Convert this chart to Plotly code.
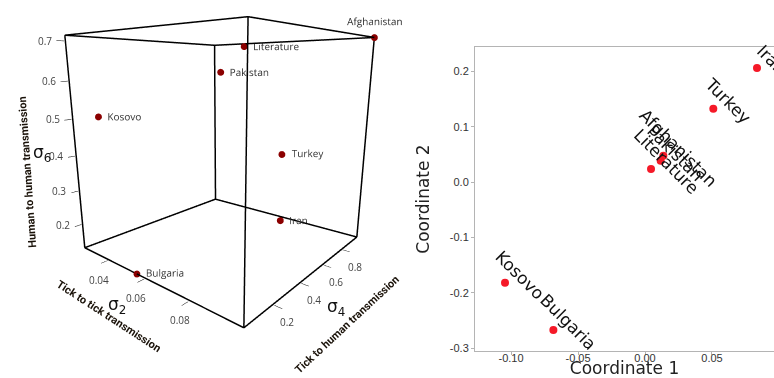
import plotly.graph_objects as go

# ---------------- data ----------------
names3d = ["Afghanistan", "Literature", "Pakistan", "Kosovo", "Turkey", "Iran", "Bulgaria"]
sigma2 = [0.100, 0.043, 0.034, 0.025, 0.070, 0.068, 0.056]   # tick to tick
sigma4 = [0.98, 0.97, 0.90, 0.15, 0.85, 0.90, 0.02]          # tick to human
sigma6 = [0.714, 0.705, 0.62, 0.50, 0.37, 0.135, 0.128]      # human to human
label_pos3d = ["top center", "middle right", "middle right", "middle right",
               "middle right", "middle right", "middle right"]

sigma2_ticks = [0.04, 0.06, 0.08]
sigma4_ticks = [0.2, 0.4, 0.6, 0.8]
sigma6_ticks = [0.2, 0.3, 0.4, 0.5, 0.6, 0.7]

names2d = ["Iran", "Turkey", "Afghanistan", "Pakistan", "Literature", "Kosovo", "Bulgaria"]
coord1 = [0.0836, 0.0510, 0.0137, 0.0117, 0.0045, -0.1045, -0.0684]
coord2 = [0.2060, 0.1325, 0.0477, 0.0386, 0.0236, -0.1816, -0.2670]

x2ticks = [-0.10, -0.05, 0.00, 0.05, 0.10]
y2ticks = [-0.3, -0.2, -0.1, 0.0, 0.1, 0.2]

r2 = [min(sigma2), max(sigma2)]
r4 = [min(sigma4), max(sigma4)]
r6 = [min(sigma6), max(sigma6)]

def padded(r, f=0.004):
    s = (r[1] - r[0]) * f
    return [r[0] - s, r[1] + s]

fig = go.Figure()

# box edges, built from the data ranges (one trace per edge)
edges = []
for a in r2:
    for b in r4:
        edges.append(((a, b, r6[0]), (a, b, r6[1])))
for a in r2:
    for c in r6:
        edges.append(((a, r4[0], c), (a, r4[1], c)))
for b in r4:
    for c in r6:
        edges.append(((r2[0], b, c), (r2[1], b, c)))
for p, q in edges:
    fig.add_trace(go.Scatter3d(x=[p[0], q[0]], y=[p[1], q[1]], z=[p[2], q[2]], mode="lines",
                               line=dict(color="black", width=3),
                               showlegend=False, hoverinfo="skip"))

# 3D points
fig.add_trace(go.Scatter3d(
    x=sigma2, y=sigma4, z=sigma6, mode="markers+text",
    text=names3d, textposition=label_pos3d,
    textfont=dict(family="Open Sans", size=10, color="#333333"),
    marker=dict(size=4, color="#8b0000"),
    showlegend=False, hoverinfo="text"))

ax3 = dict(showgrid=False, showbackground=False, zeroline=False, showline=False,
           ticks="outside", tickcolor="black", ticklen=6, tickwidth=1,
           showticklabels=False, showspikes=False, title=dict(text=""))

# tick labels of the 3D box, placed at the tick values on the box edges
tfont3 = dict(family="Open Sans", size=10, color="#444444")
scene_ann = []
for v in sigma2_ticks:
    scene_ann.append(dict(x=v, y=r4[0], z=r6[0], text=f"{v:.2f}", showarrow=False,
                          xshift=-9, yshift=-20, font=tfont3))
for v in sigma4_ticks:
    scene_ann.append(dict(x=r2[1], y=v, z=r6[0], text=f"{v:.1f}", showarrow=False,
                          xshift=13, yshift=-18, font=tfont3))
for v in sigma6_ticks:
    scene_ann.append(dict(x=r2[0], y=r4[0], z=v, text=f"{v:.1f}", showarrow=False,
                          xanchor="right", xshift=-11, font=tfont3))

fig.update_layout(
    width=774, height=378, margin=dict(l=0, r=0, t=0, b=0),
    paper_bgcolor="white", plot_bgcolor="white",
    scene=dict(
        domain=dict(x=[0.0, 0.5814], y=[43/378, 373/378]),
        xaxis=dict(ax3, range=padded(r2), tickvals=sigma2_ticks),
        yaxis=dict(ax3, range=padded(r4), tickvals=sigma4_ticks),
        zaxis=dict(ax3, range=padded(r6), tickvals=sigma6_ticks),
        aspectmode="manual", aspectratio=dict(x=1, y=1, z=1.014),
        camera=dict(eye=dict(x=1.209, y=-1.457, z=0.36), center=dict(x=0, y=0, z=-0.12),
                    up=dict(x=0, y=0, z=1)),
        annotations=scene_ann,
    ),
    xaxis=dict(domain=[475/774, 1.0], range=[-0.1269, 0.0963], automargin=False,
               tickvals=x2ticks, ticktext=["-0.10", "-0.05", "0.00", "0.05", "0.10"],
               showline=True, mirror=True, linecolor="#b4b4b4", linewidth=1,
               ticks="outside", ticklen=3, tickcolor="#b4b4b4", ticklabelstandoff=-6,
               showgrid=False, zeroline=False,
               tickfont=dict(family="Liberation Sans", size=11, color="#333333"),
               title=dict(text="Coordinate 1",
                          font=dict(family="DejaVu Sans", size=17, color="#222222"))),
    yaxis=dict(domain=[27/378, 331/378], range=[-0.305, 0.2439], automargin=False,
               tickvals=y2ticks, ticktext=["-0.3", "-0.2", "-0.1", "0.0", "0.1", "0.2"],
               showline=True, mirror=False, linecolor="#b4b4b4", linewidth=1,
               ticks="outside", ticklen=3, tickcolor="#b4b4b4",
               showgrid=False, zeroline=False,
               tickfont=dict(family="Liberation Sans", size=11, color="#333333"),
               title=dict(text="Coordinate 2",
                          font=dict(family="DejaVu Sans", size=17, color="#222222"))),
)

# 3D axis titles (paper-positioned text)
sig_font = dict(family="DejaVu Sans", size=17, color="#111111")
desc_font = dict(family="Liberation Sans Narrow, Roboto", size=11, color="#1a1209", weight="bold")
labels3d = [
    ("σ<sub>2</sub>", 117, 305, 0, sig_font),
    ("σ<sub>4</sub>", 336, 307, 0, sig_font),
    ("σ<sub>6</sub>", 42, 153, 0, sig_font),
    ("Tick to tick transmission", 109, 316, 33, desc_font),
    ("Tick to human transmission", 347, 324, -43, desc_font),
    ("Human to human transmission", 27, 172, -94, desc_font),
]
for t, px, py, ang, fnt in labels3d:
    fig.add_annotation(xref="paper", yref="paper", x=px/774, y=1-py/378, text=t,
                       showarrow=False, textangle=ang, xanchor="center", yanchor="middle",
                       font=fnt)

fig.add_trace(go.Scatter(x=coord1, y=coord2, mode="markers",
                         marker=dict(size=8, color="rgb(245,25,40)"),
                         showlegend=False, hoverinfo="skip", cliponaxis=False))

for n, cx, cy in zip(names2d, coord1, coord2):
    fig.add_annotation(x=cx, y=cy, text=n, showarrow=False, textangle=45,
                       xshift=15, yshift=8, xanchor="center", yanchor="middle",
                       font=dict(family="DejaVu Sans", size=17, color="#111111"))

fig.write_html("out.html", config={"displayModeBar": False},
               post_script="document.body.style.margin='0px';")
